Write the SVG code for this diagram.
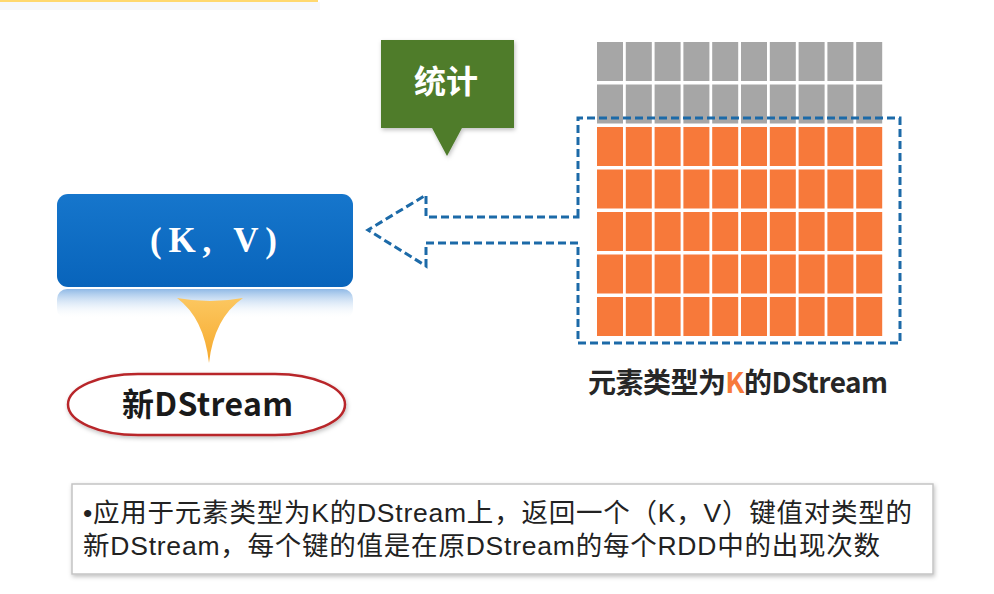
<svg xmlns="http://www.w3.org/2000/svg" width="994" height="594" viewBox="0 0 994 594">
<style>
.cell-g{fill:#a6a6a6}
.cell-o{fill:#f7793a}
.cjk{font-family:"Noto Sans CJK SC","Liberation Sans",sans-serif}
.desc{font-family:"Liberation Sans","Noto Sans CJK SC",sans-serif;font-size:26.5px;fill:#222}
.dash{fill:none;stroke:#1c6aa8;stroke-width:3;stroke-dasharray:8 4}
</style>
<defs>
<linearGradient id="blueG" x1="0" y1="0" x2="0" y2="1">
<stop offset="0" stop-color="#1676cc"/><stop offset="1" stop-color="#0864bb"/>
</linearGradient>
<linearGradient id="reflG" x1="0" y1="0" x2="0" y2="1">
<stop offset="0" stop-color="#8fb9e6"/><stop offset="1" stop-color="#ffffff" stop-opacity="0"/>
</linearGradient>
<linearGradient id="yelG" x1="0" y1="0" x2="0" y2="1">
<stop offset="0" stop-color="#fcc760"/><stop offset="1" stop-color="#f6a92c"/>
</linearGradient>
<filter id="sh" x="-10%" y="-10%" width="120%" height="130%">
<feDropShadow dx="1" dy="2" stdDeviation="2" flood-color="#000" flood-opacity="0.25"/>
</filter>
</defs>
<rect width="994" height="594" fill="#ffffff"/>
<rect x="0" y="2" width="320" height="8" fill="#f6f7fb"/>
<rect x="0" y="0" width="318" height="2" fill="#ffd870"/>

<g id="callout-tongji">
<path d="M381,40 H514 V128 H462 L447,156 L432,128 H381 Z" fill="#4f7b2c" filter="url(#sh)"/>
<text x="446" y="93" class="cjk" font-size="32" font-weight="bold" fill="#ffffff" text-anchor="middle">统计</text>
</g>

<g id="kv-box">
<rect x="57" y="289" width="296" height="30" rx="10" fill="url(#reflG)"/>
<rect x="57" y="194" width="296" height="93" rx="11" fill="url(#blueG)"/>
<text x="150" y="252" font-family="Liberation Serif,serif" font-size="35" font-weight="bold" fill="#ffffff" textLength="127" lengthAdjust="spacing">(K, V)</text>
</g>

<g id="source-dstream">
<g class="cell-g">
<rect x="597" y="42" width="26" height="39"/><rect x="625.8" y="42" width="26" height="39"/><rect x="654.6" y="42" width="26" height="39"/><rect x="683.4" y="42" width="26" height="39"/><rect x="712.2" y="42" width="26" height="39"/><rect x="741" y="42" width="26" height="39"/><rect x="769.8" y="42" width="26" height="39"/><rect x="798.6" y="42" width="26" height="39"/><rect x="827.4" y="42" width="26" height="39"/><rect x="856.2" y="42" width="26" height="39"/>
<rect x="597" y="84.5" width="26" height="39"/><rect x="625.8" y="84.5" width="26" height="39"/><rect x="654.6" y="84.5" width="26" height="39"/><rect x="683.4" y="84.5" width="26" height="39"/><rect x="712.2" y="84.5" width="26" height="39"/><rect x="741" y="84.5" width="26" height="39"/><rect x="769.8" y="84.5" width="26" height="39"/><rect x="798.6" y="84.5" width="26" height="39"/><rect x="827.4" y="84.5" width="26" height="39"/><rect x="856.2" y="84.5" width="26" height="39"/>
</g>
<g class="cell-o">
<rect x="597" y="127" width="26" height="39"/><rect x="625.8" y="127" width="26" height="39"/><rect x="654.6" y="127" width="26" height="39"/><rect x="683.4" y="127" width="26" height="39"/><rect x="712.2" y="127" width="26" height="39"/><rect x="741" y="127" width="26" height="39"/><rect x="769.8" y="127" width="26" height="39"/><rect x="798.6" y="127" width="26" height="39"/><rect x="827.4" y="127" width="26" height="39"/><rect x="856.2" y="127" width="26" height="39"/>
<rect x="597" y="169.5" width="26" height="39"/><rect x="625.8" y="169.5" width="26" height="39"/><rect x="654.6" y="169.5" width="26" height="39"/><rect x="683.4" y="169.5" width="26" height="39"/><rect x="712.2" y="169.5" width="26" height="39"/><rect x="741" y="169.5" width="26" height="39"/><rect x="769.8" y="169.5" width="26" height="39"/><rect x="798.6" y="169.5" width="26" height="39"/><rect x="827.4" y="169.5" width="26" height="39"/><rect x="856.2" y="169.5" width="26" height="39"/>
<rect x="597" y="212" width="26" height="39"/><rect x="625.8" y="212" width="26" height="39"/><rect x="654.6" y="212" width="26" height="39"/><rect x="683.4" y="212" width="26" height="39"/><rect x="712.2" y="212" width="26" height="39"/><rect x="741" y="212" width="26" height="39"/><rect x="769.8" y="212" width="26" height="39"/><rect x="798.6" y="212" width="26" height="39"/><rect x="827.4" y="212" width="26" height="39"/><rect x="856.2" y="212" width="26" height="39"/>
<rect x="597" y="254.5" width="26" height="39"/><rect x="625.8" y="254.5" width="26" height="39"/><rect x="654.6" y="254.5" width="26" height="39"/><rect x="683.4" y="254.5" width="26" height="39"/><rect x="712.2" y="254.5" width="26" height="39"/><rect x="741" y="254.5" width="26" height="39"/><rect x="769.8" y="254.5" width="26" height="39"/><rect x="798.6" y="254.5" width="26" height="39"/><rect x="827.4" y="254.5" width="26" height="39"/><rect x="856.2" y="254.5" width="26" height="39"/>
<rect x="597" y="297" width="26" height="39"/><rect x="625.8" y="297" width="26" height="39"/><rect x="654.6" y="297" width="26" height="39"/><rect x="683.4" y="297" width="26" height="39"/><rect x="712.2" y="297" width="26" height="39"/><rect x="741" y="297" width="26" height="39"/><rect x="769.8" y="297" width="26" height="39"/><rect x="798.6" y="297" width="26" height="39"/><rect x="827.4" y="297" width="26" height="39"/><rect x="856.2" y="297" width="26" height="39"/>
</g>
<text x="588" y="393" class="cjk" font-size="28" font-weight="bold" fill="#262626" textLength="300" lengthAdjust="spacing">元素类型为<tspan fill="#f7793a">K</tspan>的DStream</text>
</g>

<g id="connectors">
<path class="dash" d="M578,217 V118 H900 V343 H578 V243 H426 V266 L368,230 L426,195 V217 Z"/>
<path d="M177,298 Q210,304 243,298 Q214,318 209,363 Q204,318 177,298 Z" fill="url(#yelG)"/>
</g>

<g id="new-dstream">
<rect x="68" y="374" width="277" height="61" rx="70" ry="31" fill="#ffffff" stroke="#b8262a" stroke-width="2.5" filter="url(#sh)"/>
<text x="122" y="416" class="cjk" font-size="32" font-weight="bold" fill="#1a1a1a" textLength="171" lengthAdjust="spacing">新DStream</text>
</g>

<g id="description">
<rect x="72" y="484" width="861" height="90" fill="#ffffff" stroke="#c4c4c4" stroke-width="1.5" filter="url(#sh)"/>
<text x="83" y="522" class="desc" textLength="829" lengthAdjust="spacing">•应用于元素类型为K的DStream上，返回一个（K，V）键值对类型的</text>
<text x="83" y="555" class="desc" textLength="797" lengthAdjust="spacing">新DStream，每个键的值是在原DStream的每个RDD中的出现次数</text>
</g>
</svg>
